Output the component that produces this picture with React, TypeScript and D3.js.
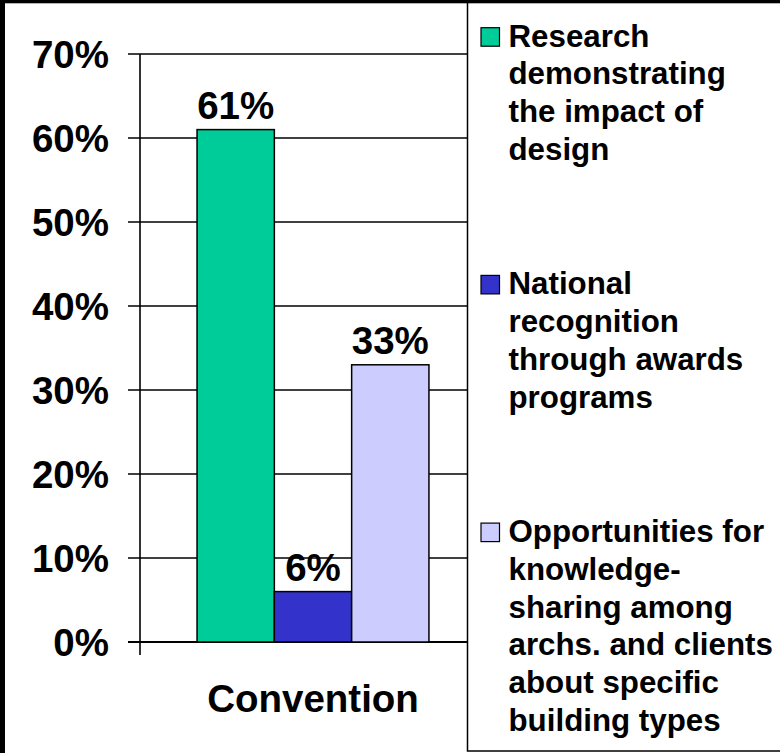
import React from "react";
import * as d3 from "d3";

const categories = ["Convention"];
const seriesNames = [
  "Research demonstrating the impact of design",
  "National recognition through awards programs",
  "Opportunities for knowledge-sharing among archs. and clients about specific building types",
];
const seriesValues = [0.61, 0.06, 0.33];
const seriesLabels = ["61%", "6%", "33%"];
const legendLines = [
  ["Research", "demonstrating", "the impact of", "design"],
  ["National", "recognition", "through awards", "programs"],
  ["Opportunities for", "knowledge-", "sharing among", "archs. and clients", "about specific", "building types"],
];
const seriesColors = ["#00CC99", "#3333CC", "#CCCCFF"];
const yTicks = [0, 0.1, 0.2, 0.3, 0.4, 0.5, 0.6, 0.7];

const FONT = "'Liberation Sans', Arial, Helvetica, sans-serif";

export default function App() {
  const W = 780;
  const H = 753;
  const y = d3.scaleLinear().domain([0, 0.7]).range([642, 54]);
  const x0 = d3.scaleBand<string>().domain(categories).range([140, 486]).padding(0);
  const x1 = d3
    .scaleBand<string>()
    .domain(seriesNames)
    .range([0, x0.bandwidth()])
    .paddingInner(0)
    .paddingOuter(0.738);
  const fmt = d3.format(".0%");
  const legendX = 467.5;
  const legendTop0 = 46.7;
  const legendStep = 247.7;
  const lineH = 37.7;
  const bigFont = 38.5;

  return (
    <svg
      width={W}
      height={H}
      style={{ position: "absolute", left: 0, top: 0, display: "block" }}
      fontFamily={FONT}
    >
      <rect x={0} y={0} width={W} height={H} fill="#ffffff" />
      {/* gridlines */}
      {yTicks.map((t) => (
        <line
          key={"g" + t}
          x1={128}
          x2={legendX}
          y1={y(t)}
          y2={y(t)}
          stroke="#000"
          strokeWidth={t === 0 ? 2.2 : 1.5}
        />
      ))}
      {/* y axis */}
      <line x1={140} x2={140} y1={y(0.7)} y2={655} stroke="#000" strokeWidth={1.6} />
      {yTicks.map((t) => (
        <text
          key={"t" + t}
          x={109}
          y={y(t) + 13.5}
          textAnchor="end"
          fontSize={bigFont}
          fontWeight="bold"
          fill="#000"
        >
          {fmt(t)}
        </text>
      ))}
      {/* bars */}
      {categories.map((c) => (
        <g key={c} transform={`translate(${x0(c)},0)`}>
          {seriesNames.map((s, i) => (
            <g key={s}>
              <rect
                x={x1(s)!}
                y={y(seriesValues[i])}
                width={x1.bandwidth()}
                height={y(0) - y(seriesValues[i])}
                fill={seriesColors[i]}
                stroke="#000"
                strokeWidth={1.5}
              />
              <text
                x={x1(s)! + x1.bandwidth() / 2}
                y={y(seriesValues[i]) - 11}
                textAnchor="middle"
                fontSize={bigFont}
                fontWeight="bold"
                fill="#000"
              >
                {seriesLabels[i]}
              </text>
            </g>
          ))}
          <text
            x={x0.bandwidth() / 2}
            y={711.5}
            textAnchor="middle"
            fontSize={bigFont}
            fontWeight="bold"
            fill="#000"
          >
            {c}
          </text>
        </g>
      ))}
      {/* legend */}
      <rect
        x={legendX}
        y={-2}
        width={W - legendX + 5}
        height={751 + 2}
        fill="#fff"
        stroke="#000"
        strokeWidth={1.5}
      />
      {legendLines.map((lines, i) => {
        const base = legendTop0 + i * legendStep;
        return (
          <g key={"l" + i}>
            <rect
              x={481}
              y={base - 19}
              width={18.5}
              height={18.5}
              fill={seriesColors[i]}
              stroke="#000"
              strokeWidth={1.2}
            />
            <text fontSize={31.3} fontWeight="bold" fill="#000">
              {lines.map((ln, j) => (
                <tspan key={j} x={508.5} y={base + j * lineH}>
                  {ln}
                </tspan>
              ))}
            </text>
          </g>
        );
      })}
      {/* outer black frame strips */}
      <rect x={0} y={0} width={W} height={3.3} fill="#000" />
      <rect x={0} y={0} width={5} height={H} fill="#000" />
    </svg>
  );
}
